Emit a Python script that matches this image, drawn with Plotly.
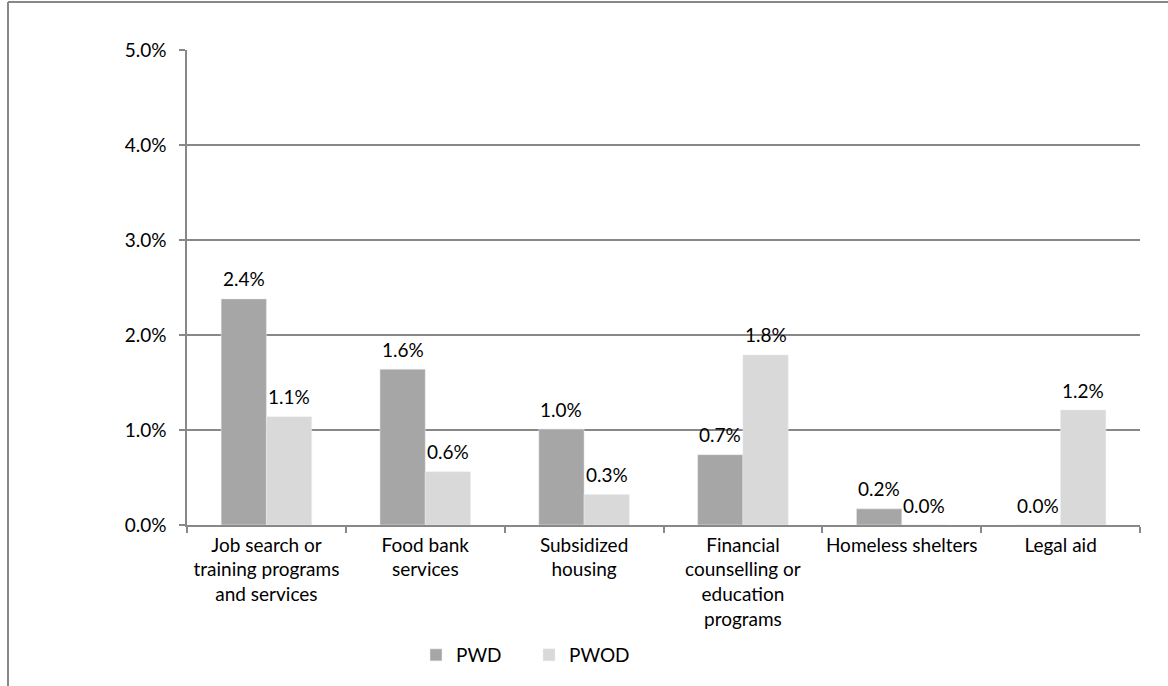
import plotly.graph_objects as go

categories = [
    "Job search or<br>training programs<br>and services",
    "Food bank<br>services",
    "Subsidized<br>housing",
    "Financial<br>counselling or<br>education<br>programs",
    "Homeless shelters",
    "Legal aid",
]
pwd = [2.38, 1.64, 1.01, 0.74, 0.17, 0.0]
pwod = [1.14, 0.56, 0.32, 1.79, 0.0, 1.21]
y_ticks = [0, 1, 2, 3, 4, 5]

FONT = "Lato"
FS = 19
W, H = 1168, 686
L, R, T, B = 187, 28, 50, 161
pw, ph = W - L - R, H - T - B
BARGAP = 0.43
bar_px = pw / len(categories) * (1 - BARGAP) / 2

fig = go.Figure()
fig.add_trace(go.Bar(x=categories, y=pwd, name="PWD", marker_color="#a6a6a6"))
fig.add_trace(go.Bar(x=categories, y=pwod, name="PWOD", marker_color="#d9d9d9"))

annotations = []
for series, shift in ((pwd, -bar_px / 2), (pwod, bar_px / 2)):
    for c, v in zip(categories, series):
        annotations.append(dict(
            x=c, y=v, xref="x", yref="y", text=f"{v:.1f}%", showarrow=False,
            xshift=shift, yshift=20, yanchor="middle",
            font=dict(family=FONT, size=FS, color="#000000"),
        ))

grid = "#888888"
fig.update_layout(
    width=W, height=H,
    margin=dict(l=L, r=R, t=T, b=B, autoexpand=False),
    paper_bgcolor="white", plot_bgcolor="white",
    barmode="group", bargap=BARGAP, bargroupgap=0,
    font=dict(family=FONT, size=FS, color="#000000"),
    showlegend=True,
    legend=dict(
        orientation="h", x=(416 - L) / pw, xanchor="left",
        y=(525 - 655) / ph, yanchor="middle",
        font=dict(family=FONT, size=FS, color="#000000"),
        entrywidth=68, entrywidthmode="pixels",
        itemclick=False, traceorder="normal",
    ),
    xaxis=dict(
        type="category", showline=True, linecolor=grid, linewidth=1.5,
        ticks="outside", tickson="boundaries", ticklen=6, tickcolor=grid,
        tickwidth=1.5, showgrid=False, tickangle=0,
        tickfont=dict(family=FONT, size=FS, color="#000000"),
        ticklabelstandoff=2,
    ),
    yaxis=dict(
        range=[0, 5], tickvals=y_ticks, ticktext=[f"{v:.1f}%" for v in y_ticks],
        showline=True, linecolor=grid, linewidth=1.5,
        ticks="outside", ticklen=6, tickcolor=grid, tickwidth=1.5,
        showgrid=True, gridcolor=grid, gridwidth=1.5, zeroline=False,
        tickfont=dict(family=FONT, size=FS, color="#000000"),
        ticklabelstandoff=9,
    ),
    annotations=annotations,
    shapes=[
        dict(type="line", xref="paper", yref="paper",
             x0=(8 - L) / pw, x1=(1175 - L) / pw,
             y0=(H - B - 2) / ph, y1=(H - B - 2) / ph,
             line=dict(color="#888888", width=2)),
        dict(type="line", xref="paper", yref="paper",
             x0=(8 - L) / pw, x1=(8 - L) / pw,
             y0=(H - B - 2) / ph, y1=(H - B - 700) / ph,
             line=dict(color="#888888", width=2)),
    ],
)

fig.write_html(
    "out.html",
    config={"displayModeBar": False},
    post_script="document.body.style.margin='0';document.body.style.overflow='hidden';",
)
